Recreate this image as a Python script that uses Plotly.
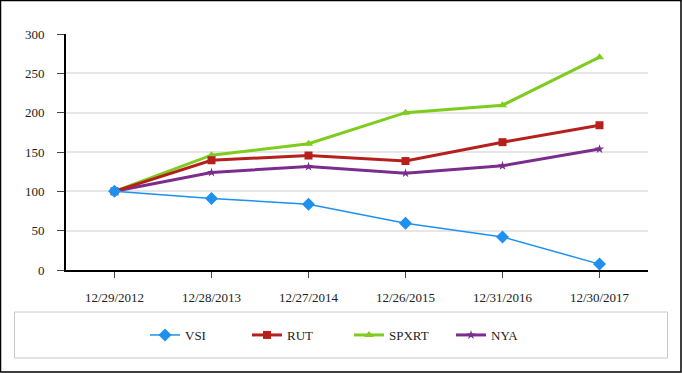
import plotly.graph_objects as go

dates = ["12/29/2012", "12/28/2013", "12/27/2014", "12/26/2015", "12/31/2016", "12/30/2017"]
vsi = [100, 91, 83.5, 59.5, 42, 7.5]
rut = [100, 139.5, 145.5, 138.5, 162.5, 184]
spxrt = [100, 146, 160.5, 200, 209.5, 270.5]
nya = [100, 124, 131.5, 123, 132.5, 153.7]
y_ticks = [0, 50, 100, 150, 200, 250, 300]

W, H = 682, 373
L, R, T, B = 66, 34, 34, 103
pw, ph = W - L - R, H - T - B

def px_x(p):
    return (p - L) / pw

def px_y(p):
    return (H - B - p) / ph

FONT = "Liberation Serif"

fig = go.Figure()
series = [
    ("VSI", vsi, "#1e90f0", 1.5, "diamond", 10),
    ("RUT", rut, "#b5201c", 3, "square", 8),
    ("SPXRT", spxrt, "#7dcc1e", 3, "triangle-up", 8),
    ("NYA", nya, "#7b2d8e", 3, "star", 7),
]
# draw in reverse so VSI sits on top, keep legend order with legendrank
for rank, (name, vals, col, lw, sym, ms) in reversed(list(enumerate(series))):
    fig.add_trace(go.Scatter(
        x=dates, y=vals, name=name, mode="lines+markers",
        line=dict(color=col, width=lw),
        marker=dict(symbol=sym, size=ms, color=col),
        legendrank=1000 + rank,
    ))

fig.update_layout(
    width=W, height=H,
    margin=dict(l=L, r=R, t=T, b=B, pad=0),
    paper_bgcolor="white", plot_bgcolor="white",
    font=dict(family=FONT, size=13, color="#222222"),
    showlegend=True,
    legend=dict(
        orientation="h", x=px_x(145), xanchor="left",
        y=px_y(335), yanchor="middle",
        font=dict(family=FONT, size=13, color="#222222"),
        bgcolor="rgba(0,0,0,0)", borderwidth=0,
        entrywidth=57, traceorder="normal",
    ),
    xaxis=dict(
        type="category", range=[-0.5, 5.5],
        showline=True, linecolor="black", linewidth=2,
        ticks="outside", ticklen=6, tickcolor="#444444", tickwidth=1,
        showgrid=False, zeroline=False, fixedrange=True,
        ticklabelstandoff=8,
    ),
    yaxis=dict(
        range=[0, 300], tickvals=y_ticks,
        showline=True, linecolor="black", linewidth=2,
        ticks="outside", ticklen=7, tickcolor="#444444", tickwidth=1,
        showgrid=True, gridcolor="#e6e6e6", gridwidth=1.5,
        zeroline=False, ticklabelstandoff=10,
    ),
    shapes=[
        dict(type="rect", xref="paper", yref="paper",
             x0=px_x(0.5), x1=px_x(681), y0=px_y(0.5), y1=px_y(372),
             line=dict(color="black", width=1.5), layer="below"),
        dict(type="rect", xref="paper", yref="paper",
             x0=px_x(14.5), x1=px_x(667.5), y0=px_y(312), y1=px_y(358),
             line=dict(color="#c8c8c8", width=1), layer="below"),
    ],
)

fig.write_html(
    "out.html",
    config={"displayModeBar": False},
    post_script="document.body.style.margin='0';document.body.style.overflow='hidden';",
)
